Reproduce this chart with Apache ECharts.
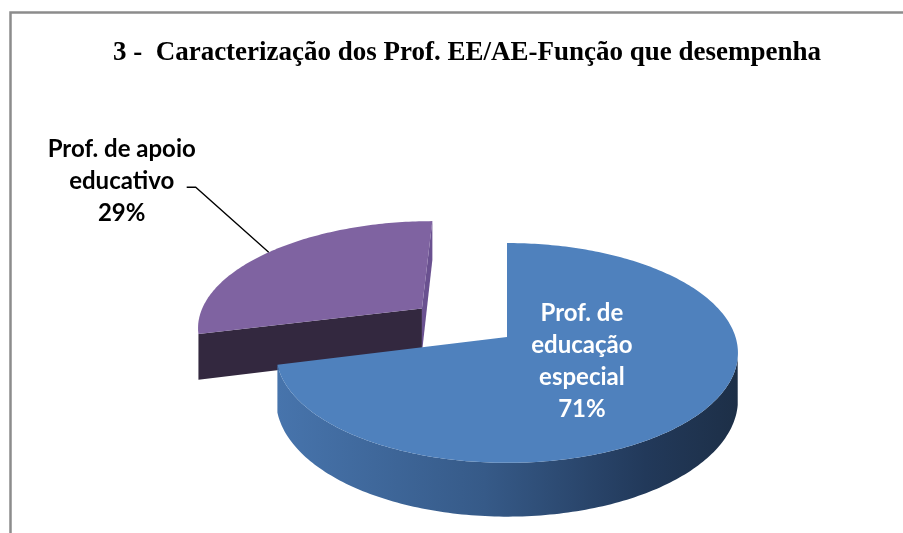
<!DOCTYPE html>
<html>
<head>
<meta charset="utf-8">
<script src="https://cdn.jsdelivr.net/npm/echarts@6/dist/echarts.min.js"></script>
<style>
html,body{margin:0;padding:0;background:#fff;}
#chart{width:903px;height:533px;}
</style>
</head>
<body>
<div id="chart"></div>
<script>
// ---- data ----
const titleText = '3 -  Caracterização dos Prof. EE/AE-Função que desempenha';
const categories = ['Prof. de\neducação\nespecial', 'Prof. de apoio\neducativo'];
const percents = [71, 29];

// ---- layout / style ----
const G = {
  cx: 507, cy: 337,      // screen position of pie centre (top face)
  A: 228.5,              // horizontal radius scale
  S: 107.6,              // vertical radius scale (tilt)
  u: 0.145,              // perspective factor
  H: 46,                 // thickness (screen px at centre depth)
  camZ: -5.36,           // camera horizontal distance (radius units, front)
  startAngle: 90
};
const sliceStyle = [
  { top: '#4f81bd', side: null, radial: '#2d4a70', explode: 0, labelInside: true, labelR: 0.40, labelColor: '#ffffff' },
  { top: '#7f63a1', side: '#33283f', radial: '#33283f', radial2: '#6a5190', explode: 0.49, labelInside: false, labelColor: '#000000' }
];
const total = percents.reduce((a, b) => a + b, 0);
const DEG = Math.PI / 180;

function proj(X, Z, bottom) {
  const k = 1 / (1 + G.u * Z);
  return [G.cx + G.A * X * k, G.cy - G.S * Z * k + (bottom ? G.H * k : 0)];
}

function renderItem(params, api) {
  const i = params.dataIndex;
  const v = api.value(0);
  let cum = 0;
  for (let j = 0; j < i; j++) cum += percents[j];
  const a0 = G.startAngle - cum / total * 360;
  const a1 = a0 - v / total * 360;
  const mid = (a0 + a1) / 2 * DEG;
  const st = sliceStyle[i];
  const ox = st.explode * Math.cos(mid), oz = st.explode * Math.sin(mid) * 0.92;
  const z2base = Math.round((1 - Math.sin(mid)) * 10) * 10;
  const children = [];

  const n = Math.max(2, Math.ceil(Math.abs(a0 - a1)));
  const ts = [];
  for (let s = 0; s <= n; s++) ts.push((a0 + (a1 - a0) * s / n) * DEG);

  // outer wall: visible runs
  let run = [];
  const runs = [];
  ts.forEach(t => {
    const px = ox + Math.cos(t), pz = oz + Math.sin(t);
    const dot = Math.cos(t) * (0 - px) + Math.sin(t) * (G.camZ - pz);
    if (dot > 0) run.push(t); else { if (run.length > 1) runs.push(run); run = []; }
  });
  if (run.length > 1) runs.push(run);
  runs.forEach(r => {
    const topPts = r.map(t => proj(ox + Math.cos(t), oz + Math.sin(t), false));
    const botPts = r.map(t => proj(ox + Math.cos(t), oz + Math.sin(t), true)).reverse();
    const fill = st.side ? st.side : new echarts.graphic.LinearGradient(0, 0, 1, 0, [
      { offset: 0, color: '#4774ac' },
      { offset: 0.45, color: '#365a88' },
      { offset: 0.8, color: '#22395a' },
      { offset: 1, color: '#1d2f47' }
    ]);
    children.push({ type: 'polygon', z2: z2base + 1, shape: { points: topPts.concat(botPts) }, style: { fill: fill } });
  });

  // radial walls
  [[a0, 1], [a1, -1]].forEach(([a, sgn]) => {
    const t = a * DEG;
    const nt = t + sgn * Math.PI / 2;
    const nx = Math.cos(nt), nz = Math.sin(nt);
    const dot = nx * (0 - ox) + nz * (G.camZ - oz);
    if (dot > 0.01) {
      const ex = ox + Math.cos(t), ez = oz + Math.sin(t);
      const pts = [proj(ox, oz, false), proj(ex, ez, false), proj(ex, ez, true), proj(ox, oz, true)];
      const col = (sgn === -1 && st.radial2) ? st.radial2 : st.radial;
      children.push({ type: 'polygon', z2: z2base + 2, shape: { points: pts }, style: { fill: col } });
    }
  });

  // top face
  const topFace = [proj(ox, oz, false)].concat(ts.map(t => proj(ox + Math.cos(t), oz + Math.sin(t), false)));
  children.push({ type: 'polygon', z2: z2base + 3, shape: { points: topFace }, style: { fill: st.top } });

  // label
  const pct = Math.round(v / total * 100) + '%';
  const labelText = categories[i] + '\n' + pct;
  const font = "bold 24px Lato, 'Liberation Sans', sans-serif";
  if (st.labelInside) {
    const p = proj(ox + st.labelR * Math.cos(mid), oz + st.labelR * Math.sin(mid), false);
    children.push({ type: 'text', z2: z2base + 5, x: p[0], y: p[1] - 3,
      style: { text: labelText, fill: st.labelColor, font: font, align: 'center', verticalAlign: 'middle', lineHeight: 32 } });
  } else {
    const p = proj(ox + Math.cos(mid), oz + Math.sin(mid), false);
    const elbow = [p[0] - 73, p[1] - 65];
    const end = [elbow[0] - 9, elbow[1]];
    children.push({ type: 'polyline', z2: z2base + 5, shape: { points: [p, elbow, end] }, style: { stroke: '#000', lineWidth: 1.3, fill: null } });
    children.push({ type: 'text', z2: z2base + 5, x: end[0] - 65, y: end[1] - 6,
      style: { text: labelText, fill: st.labelColor, font: font, align: 'center', verticalAlign: 'middle', lineHeight: 32 } });
  }
  return { type: 'group', children: children };
}

const chart = echarts.init(document.getElementById('chart'), null, { renderer: 'canvas' });
chart.setOption({
  animation: false,
  backgroundColor: '#ffffff',
  title: {
    text: titleText,
    left: 462, top: 35, textAlign: 'center',
    textStyle: { fontFamily: "'Liberation Serif', 'Times New Roman', serif", fontWeight: 'bold', fontSize: 27, color: '#000' }
  },
  graphic: [{
    type: 'rect', left: 8, top: 10, shape: { x: 0, y: 0, width: 1000, height: 1000 },
    style: { fill: 'none', stroke: '#8c8c8c', lineWidth: 2.5 }, silent: true
  }],
  series: [{
    type: 'custom',
    coordinateSystem: 'none',
    renderItem: renderItem,
    data: percents.map(v => [v]),
    silent: true
  }]
});
</script>
</body>
</html>
